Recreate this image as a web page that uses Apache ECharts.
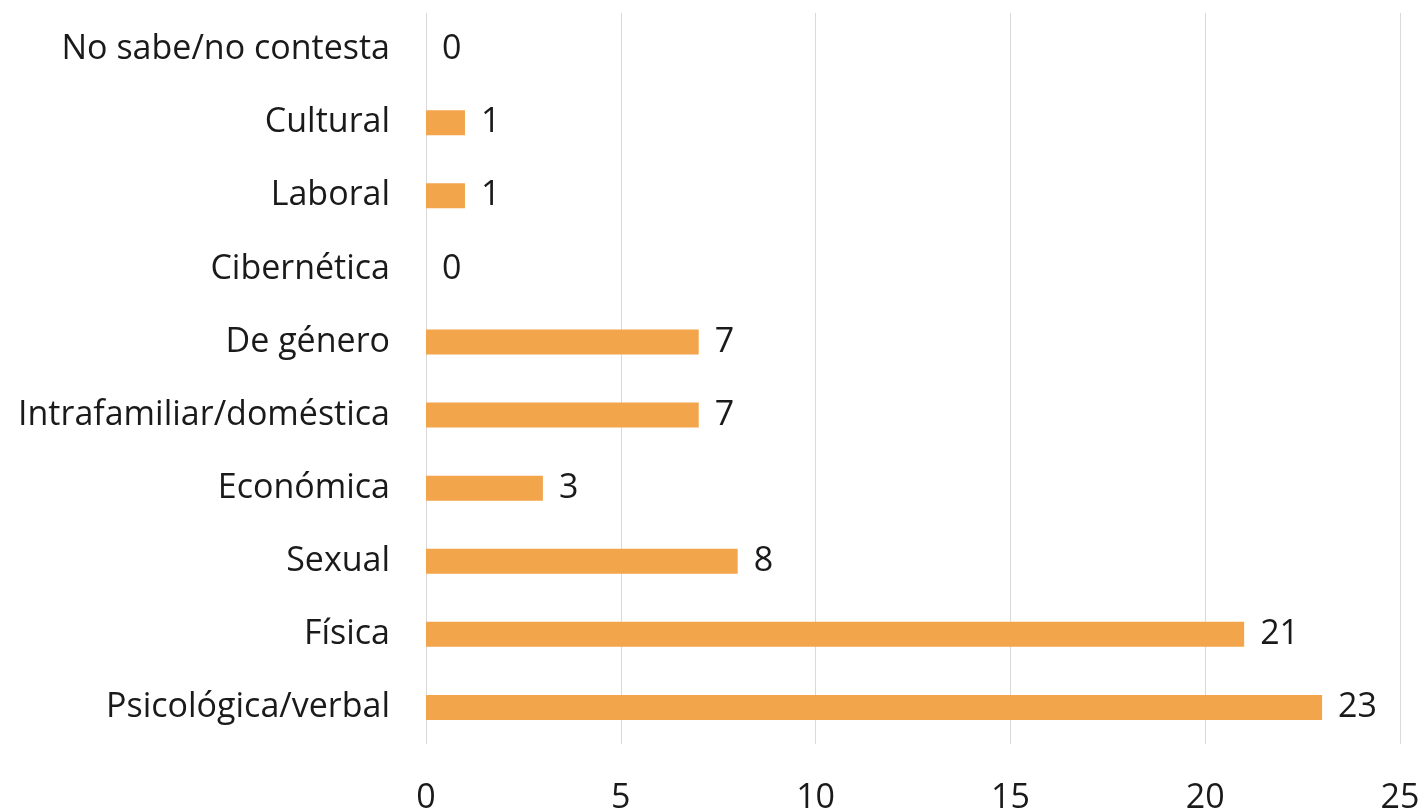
<!DOCTYPE html>
<html>
<head>
<meta charset="utf-8">
<script src="https://cdn.jsdelivr.net/npm/echarts@6/dist/echarts.min.js"></script>
<style>html,body{margin:0;padding:0;background:#fff;}#c{width:1423px;height:811px;}</style>
</head>
<body>
<div id="c"></div>
<script>
var categories = ['Psicológica/verbal','Física','Sexual','Económica','Intrafamiliar/doméstica','De género','Cibernética','Laboral','Cultural','No sabe/no contesta'];
var values = [23,21,8,3,7,7,0,1,1,0];
var xTicks = [0,5,10,15,20,25];

var FONT = '"Open Sans", sans-serif';
var FS = 34;
var chart = echarts.init(document.getElementById('c'));
chart.setOption({
  animation:false,
  backgroundColor:'#ffffff',
  grid:{left:426,right:23,top:13,bottom:67,containLabel:false,outerBoundsMode:'none'},
  xAxis:{type:'value',min:xTicks[0],max:xTicks[xTicks.length-1],interval:5,
    axisLine:{show:false},axisTick:{show:false},
    splitLine:{show:true,lineStyle:{color:'#d9d9d9',width:1}},
    axisLabel:{color:'#1a1a1a',fontFamily:FONT,fontSize:FS,margin:37}},
  yAxis:{type:'category',data:categories,
    axisLine:{show:false},axisTick:{show:false},
    axisLabel:{color:'#1a1a1a',fontFamily:FONT,fontSize:FS,margin:36,padding:[8,0,0,0]}},
  series:[{type:'bar',data:values,barWidth:25,
    itemStyle:{color:'#F2A54A'},
    label:{show:true,position:'right',distance:16,color:'#1a1a1a',fontFamily:FONT,fontSize:FS,padding:[8,0,0,0]}}]
});
</script>
</body>
</html>
